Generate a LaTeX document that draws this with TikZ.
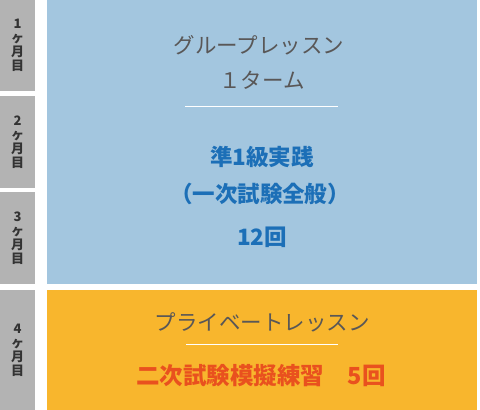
\documentclass[tikz,border=0pt]{standalone}
\usepackage{fontspec}
\newfontfamily\jp{Noto Sans CJK JP}
\setmainfont{Noto Sans CJK JP}
\definecolor{grayc}{HTML}{B3B3B3}
\definecolor{bluec}{HTML}{A3C6DF}
\definecolor{orangec}{HTML}{F8B62D}
\definecolor{txtgray}{HTML}{595757}
\definecolor{txtblue}{HTML}{1C6FB7}
\definecolor{txtred}{HTML}{E9511E}
\definecolor{mlabel}{HTML}{333333}
\tikzset{
  monthbox/.style={fill=grayc,draw=none},
  monthlabel/.style={font=\jp\bfseries\fontsize{13}{14}\selectfont,text=mlabel,align=center,inner sep=0pt},
  lighttxt/.style={font=\jp\fontsize{21.5}{24}\selectfont,text=txtgray,inner sep=0pt},
  bluetxt/.style={font=\jp\bfseries\fontsize{22.5}{24}\selectfont,text=txtblue,inner sep=0pt},
  redtxt/.style={font=\jp\bfseries\fontsize{23.5}{24}\selectfont,text=txtred,inner sep=0pt},
  sepline/.style={white,line width=1pt}
}
\begin{document}
\begin{tikzpicture}[x=1pt,y=-1pt]
\useasboundingbox (0,0) rectangle (480,410);
\fill[white] (0,0) rectangle (480,410);
% month column
\fill[monthbox] (0,0) rectangle (35,91);
\fill[monthbox] (0,96) rectangle (35,188);
\fill[monthbox] (0,192) rectangle (35,284);
\fill[monthbox] (0,290) rectangle (35,410);
\node[monthlabel] (m1) at (17.5,45.5) {1\\ヶ\\月\\目};
\node[monthlabel] (m2) at (17.5,142) {2\\ヶ\\月\\目};
\node[monthlabel] (m3) at (17.5,238) {3\\ヶ\\月\\目};
\node[monthlabel] (m4) at (17.5,350) {4\\ヶ\\月\\目};
% blocks
\fill[bluec] (47,0) rectangle (477,284);
\fill[orangec] (47,290) rectangle (477,410);
% group lesson texts
\node[lighttxt] (g1) at (259,45) {グループレッスン};
\node[lighttxt] (g2) at (262,80) {１ターム};
\coordinate (l1a) at (185,106);
\coordinate (l1b) at (338,106);
\draw[sepline] (l1a) -- (l1b);
\node[bluetxt] (b1) at (262,157) {準1級実践};
\node[bluetxt] (b2) at (260,194) {（一次試験全般）};
\node[bluetxt] (b3) at (262,237) {12回};
% private lesson
\node[lighttxt] (p1) at (262,322) {プライベートレッスン};
\coordinate (l2a) at (186,344);
\coordinate (l2b) at (338,344);
\draw[sepline] (l2a) -- (l2b);
\node[redtxt] (r1) at (261,376) {二次試験模擬練習　5回};
\end{tikzpicture}
\end{document}
